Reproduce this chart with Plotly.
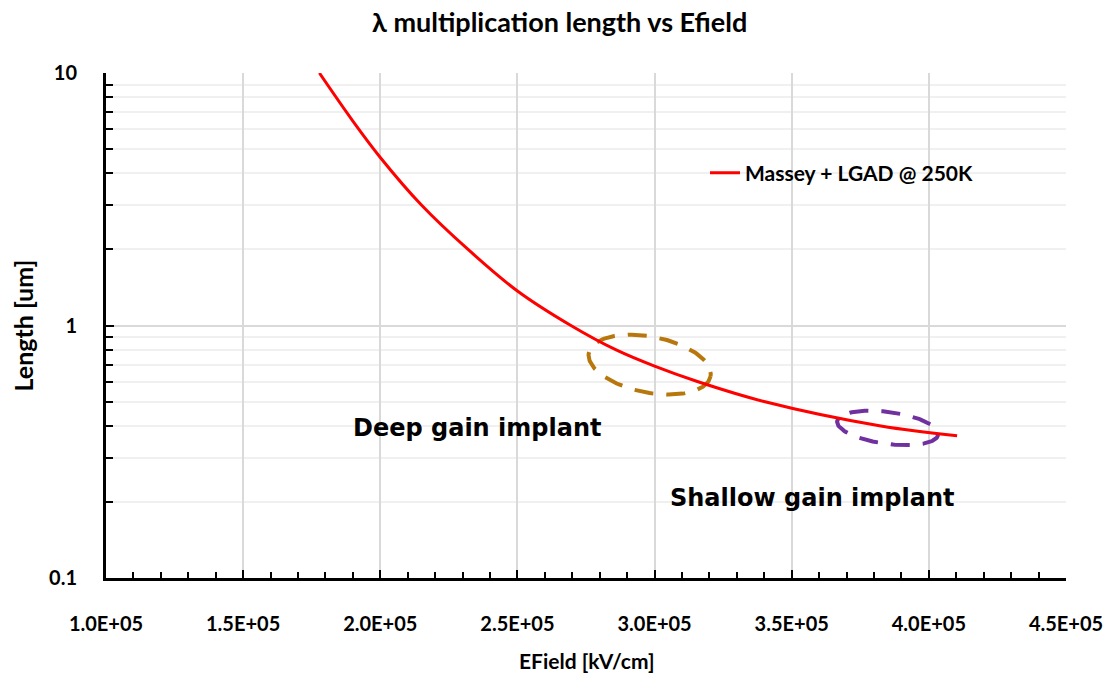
import numpy as np
import plotly.graph_objects as go

# ---- data ----
efield = [1.778e5, 1.9e5, 2.0e5, 2.15e5, 2.32e5, 2.5e5, 2.695e5, 2.86e5,
          3.0e5, 3.156e5, 3.399e5, 3.825e5, 4.103e5]
length_um = [10.0, 6.45, 4.63, 3.0, 2.0, 1.37, 1.0, 0.8, 0.69, 0.6, 0.5, 0.4, 0.366]

series_name = "Massey + LGAD @ 250K"
x_tickvals = [1.0e5, 1.5e5, 2.0e5, 2.5e5, 3.0e5, 3.5e5, 4.0e5, 4.5e5]
x_ticktext = ["1.0E+05", "1.5E+05", "2.0E+05", "2.5E+05", "3.0E+05", "3.5E+05", "4.0E+05", "4.5E+05"]
y_tickvals = [0.1, 1, 10]
y_ticktext = ["0.1", "1", "10"]
y_minor_vals = [0.2, 0.3, 0.4, 0.5, 0.6, 0.7, 0.8, 0.9, 2, 3, 4, 5, 6, 7, 8, 9]

# highlighted regions (center efield, center length)
deep_center = (2.982e5, 0.70)
shallow_center = (3.85e5, 0.393)

# ---- figure geometry ----
W, H = 1109, 676
ML, MR, MT, MB = 106, 43, 73, 98
PW, PH = W - ML - MR, H - MT - MB
XMIN, XMAX = 1.0e5, 4.5e5
px_per_x = PW / (XMAX - XMIN)
px_per_dec = PH / 2.0


def ellipse(center, a, b, theta_deg):
    t = np.linspace(0, 2 * np.pi, 200)
    th = np.radians(theta_deg)
    dx = a * np.cos(t) * np.cos(th) - b * np.sin(t) * np.sin(th)
    dy = -(a * np.cos(t) * np.sin(th) + b * np.sin(t) * np.cos(th))
    xs = center[0] + dx / px_per_x
    ys = 10 ** (np.log10(center[1]) + dy / px_per_dec)
    return xs, ys


fig = go.Figure()

ex, ey = ellipse(deep_center, 62, 28, 11)
fig.add_trace(go.Scatter(x=ex, y=ey, mode="lines", showlegend=False, hoverinfo="skip",
                         line=dict(color="#B8770C", width=4, dash="19px,13px")))
ex, ey = ellipse(shallow_center, 51, 16, 7.5)
fig.add_trace(go.Scatter(x=ex, y=ey, mode="lines", showlegend=False, hoverinfo="skip",
                         line=dict(color="#7030A0", width=4, dash="19px,13px")))

fig.add_trace(go.Scatter(x=efield, y=length_um, mode="lines", name=series_name,
                         line=dict(color="#FF0000", width=3, shape="spline", smoothing=1.0)))

font_main = "Lato"

fig.update_layout(
    width=W, height=H,
    margin=dict(l=ML, r=MR, t=MT, b=MB),
    paper_bgcolor="white", plot_bgcolor="white",
    showlegend=True,
    legend=dict(x=(705 - ML) / PW, y=(MT + PH - 173) / PH, xanchor="left", yanchor="middle",
                bgcolor="rgba(0,0,0,0)",
                font=dict(family=font_main, size=21, color="black", weight="bold")),
    xaxis=dict(
        type="linear", range=[XMIN, XMAX], automargin=False,
        tickmode="array", tickvals=x_tickvals, ticktext=x_ticktext,
        ticks="inside", ticklen=8, tickwidth=2, tickcolor="black",
        showline=True, linecolor="black", linewidth=3,
        showgrid=True, gridcolor="#d9d9d9", gridwidth=1.5,
        zeroline=False, ticklabelstandoff=26, ticklabeloverflow="allow",
        tickfont=dict(family=font_main, size=20, color="black", weight="bold"),
        minor=dict(tickmode="linear", tick0=1.0e5, dtick=1.0e4, ticks="inside",
                   ticklen=6, tickwidth=2, tickcolor="black", showgrid=False),
    ),
    yaxis=dict(
        type="log", range=[-1, 1], automargin=False,
        tickmode="array", tickvals=y_tickvals, ticktext=y_ticktext,
        ticks="inside", ticklen=8, tickwidth=2, tickcolor="black",
        showline=True, linecolor="black", linewidth=3,
        showgrid=True, gridcolor="#d9d9d9", gridwidth=1.5,
        zeroline=False, ticklabelstandoff=22,
        tickfont=dict(family=font_main, size=20, color="black", weight="bold"),
        minor=dict(tickmode="array", tickvals=y_minor_vals, ticks="inside",
                   ticklen=7, tickwidth=2, tickcolor="black",
                   showgrid=True, gridcolor="#f0f0f0", gridwidth=1.5),
    ),
    annotations=[
        dict(text="λ multiplication length vs Efield", xref="paper", yref="paper",
             x=(559 - ML) / PW, y=(MT + PH - 22) / PH, xanchor="center", yanchor="middle",
             showarrow=False, font=dict(family=font_main, size=27, color="black", weight="bold")),
        dict(text="EField [kV/cm]", xref="paper", yref="paper",
             x=0.5, y=(MT + PH - 660) / PH, xanchor="center", yanchor="middle",
             showarrow=False, font=dict(family=font_main, size=21, color="black", weight="bold")),
        dict(text="Length [um]", xref="paper", yref="paper", textangle=-90,
             x=(22 - ML) / PW, y=0.5, xanchor="center", yanchor="middle",
             showarrow=False, font=dict(family=font_main, size=25, color="black", weight="bold")),
        dict(text="Deep gain implant", xref="paper", yref="paper",
             x=(477 - ML) / PW, y=(MT + PH - 428) / PH, xanchor="center", yanchor="middle",
             showarrow=False, font=dict(family="DejaVu Sans", size=24, color="black", weight="bold")),
        dict(text="Shallow gain implant", xref="paper", yref="paper",
             x=(812 - ML) / PW, y=(MT + PH - 498) / PH, xanchor="center", yanchor="middle",
             showarrow=False, font=dict(family="DejaVu Sans", size=24, color="black", weight="bold")),
    ],
)

fig.write_html("out.html")
